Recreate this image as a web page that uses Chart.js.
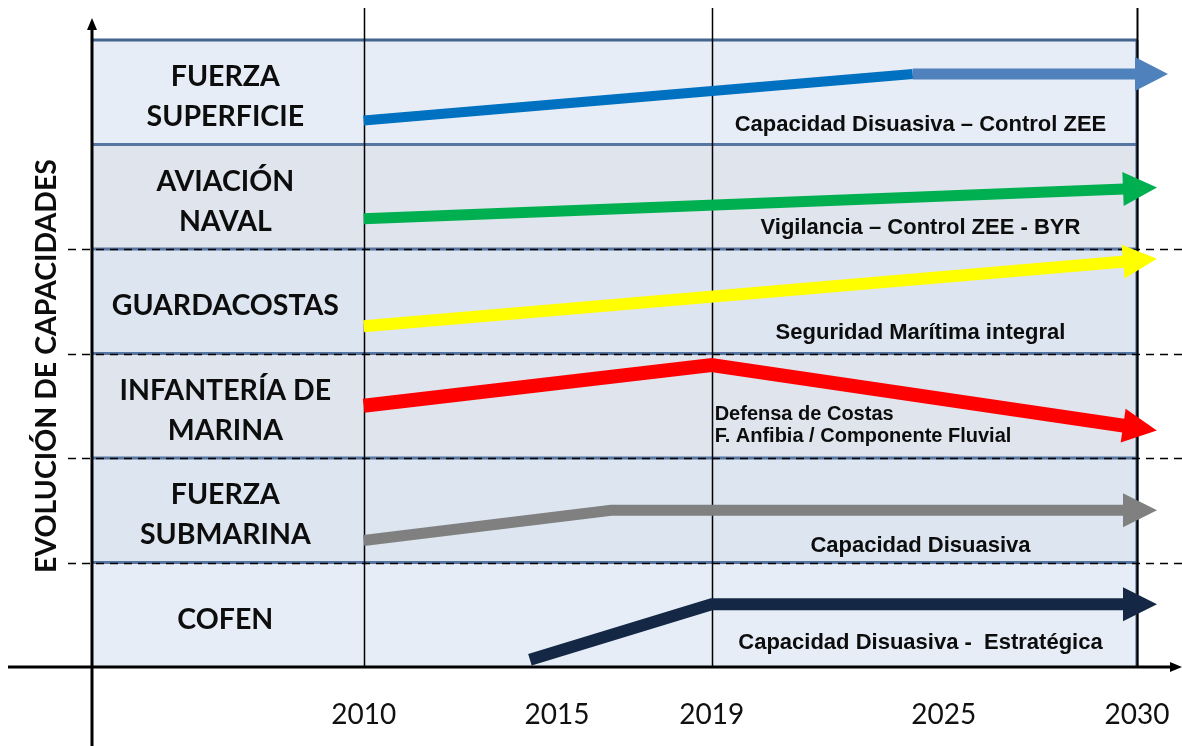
<!DOCTYPE html>
<html>
<head>
<meta charset="utf-8">
<script src="https://cdn.jsdelivr.net/npm/chart.js@4.4.1/dist/chart.umd.min.js"></script>
<style>
    html, body { margin: 0; padding: 0; background: #fff; }
</style>
</head>
<body>
<canvas id="chart" width="1182" height="746"></canvas>
<script>
// rows, bottom to top (one row = one unit on the y scale)
const rowLabels = [
    ['COFEN'],
    ['FUERZA', 'SUBMARINA'],
    ['INFANTERÍA DE', 'MARINA'],
    ['GUARDACOSTAS'],
    ['AVIACIÓN', 'NAVAL'],
    ['FUERZA', 'SUPERFICIE']
];
const tickYears = [2010, 2015, 2019, 2025, 2030];
const markerYears = [2010, 2019, 2030];

// capability lines: years and level (in row units)
const superficieYears = [2010, 2024.2, 2030];
const superficieLevels = [5.23, 5.675, 5.675];
const aviacionYears = [2010, 2030];
const aviacionLevels = [4.29, 4.58];
const guardacostasYears = [2010, 2030];
const guardacostasLevels = [3.26, 3.89];
const infanteriaYears = [2010, 2019, 2030];
const infanteriaLevels = [2.50, 2.89, 2.29];
const submarinaYears = [2010, 2016.4, 2030];
const submarinaLevels = [1.21, 1.50, 1.50];
const cofenYears = [2014.3, 2019, 2030];
const cofenLevels = [0.07, 0.60, 0.60];

const noteTexts = [
    'Capacidad Disuasiva – Control ZEE',
    'Vigilancia – Control ZEE - BYR',
    'Seguridad Marítima integral',
    'Capacidad Disuasiva',
    'Capacidad Disuasiva -  Estratégica'
];
const defensaLines = ['Defensa de Costas', 'F. Anfibia / Componente Fluvial'];
const axisTitle = 'EVOLUCIÓN DE CAPACIDADES';

// layout / styles
const rowFills = ['#e6edf6', '#dce5f0', '#dfe4ed', '#dce5f0', '#dfe4ed', '#e6edf6'];
const noteLevels = [5.19, 4.20, 3.20, 1.16, 0.23];
const noteYear = 2024.4;
const labelFont = 'bold 28.5px Lato';
const noteFont = 'bold 22px "Liberation Sans"';

function pts(xs, ys) {
    return xs.map((x, i) => ({ x: x, y: ys[i] }));
}

function line(ctx, x1, y1, x2, y2) {
    ctx.beginPath();
    ctx.moveTo(x1, y1);
    ctx.lineTo(x2, y2);
    ctx.stroke();
}

const diagramPlugin = {
    id: 'diagram',
    beforeDatasetsDraw(chart) {
        const { ctx, chartArea: a, scales: { x, y } } = chart;
        ctx.save();

        // row bands
        rowFills.forEach((c, i) => {
            const top = y.getPixelForValue(i + 1);
            const bot = y.getPixelForValue(i);
            ctx.fillStyle = c;
            ctx.fillRect(a.left, top, a.right - a.left, bot - top);
        });

        // row borders
        ctx.lineWidth = 3;
        for (let i = 1; i <= rowLabels.length; i++) {
            const py = y.getPixelForValue(i);
            ctx.strokeStyle = i === 6 ? '#42648f' : '#5675a0';
            line(ctx, a.left, py, a.right, py);
        }
        ctx.strokeStyle = '#3e5b84';
        line(ctx, a.right, a.top, a.right, a.bottom);

        // dashed guide lines
        ctx.setLineDash([8, 6]);
        ctx.strokeStyle = '#000';
        ctx.lineWidth = 1.5;
        for (let i = 1; i <= 4; i++) {
            const py = Math.round(y.getPixelForValue(i)) + 0.5;
            line(ctx, a.left - 25, py, chart.width, py);
        }
        ctx.setLineDash([]);

        // year markers
        markerYears.forEach((yr, i) => {
            const px = Math.round(x.getPixelForValue(yr)) + 0.5;
            ctx.lineWidth = i === markerYears.length - 1 ? 2 : 1.5;
            line(ctx, px, 8, px, a.bottom);
        });

        // row labels
        ctx.fillStyle = '#0d0d0d';
        ctx.font = labelFont;
        ctx.textAlign = 'center';
        ctx.textBaseline = 'middle';
        const cx = (a.left + x.getPixelForValue(2010)) / 2 - 3;
        rowLabels.forEach((lines, i) => {
            const cy = y.getPixelForValue(i + 0.5) + 5;
            lines.forEach((t, j) => {
                ctx.fillText(t, cx, cy + (j - (lines.length - 1) / 2) * 40);
            });
        });

        // notes
        ctx.font = noteFont;
        const nx = x.getPixelForValue(noteYear);
        noteTexts.forEach((t, i) => {
            ctx.fillText(t, nx, y.getPixelForValue(noteLevels[i]));
        });
        ctx.textAlign = 'left';
        ctx.font = 'bold 20px "Liberation Sans"';
        const dx = x.getPixelForValue(2019) + 3;
        defensaLines.forEach((t, j) => {
            ctx.fillText(t, dx, y.getPixelForValue(2.42) + j * 22);
        });

        // axis title
        ctx.save();
        ctx.translate(47, 366);
        ctx.rotate(-Math.PI / 2);
        ctx.textAlign = 'center';
        ctx.font = labelFont;
        ctx.fillText(axisTitle, 0, 0);
        ctx.restore();

        ctx.restore();
    },
    afterDatasetsDraw(chart) {
        const { ctx, chartArea: a } = chart;
        ctx.save();

        // arrow heads at the end of each line
        chart.data.datasets.forEach((ds, i) => {
            const els = chart.getDatasetMeta(i).data;
            const p1 = els[els.length - 1], p0 = els[els.length - 2];
            const ang = Math.atan2(p1.y - p0.y, p1.x - p0.x);
            const h = ds.arrowHead;
            ctx.save();
            ctx.translate(p1.x, p1.y);
            ctx.rotate(ang);
            ctx.fillStyle = h.color;
            ctx.beginPath();
            ctx.moveTo(h.fwd, 0);
            ctx.lineTo(-h.back, -h.half);
            ctx.lineTo(-h.back, h.half);
            ctx.closePath();
            ctx.fill();
            ctx.restore();
        });

        // axes
        ctx.strokeStyle = '#000';
        ctx.fillStyle = '#000';
        ctx.lineWidth = 3;
        line(ctx, a.left - 1, 28, a.left - 1, chart.height);
        ctx.beginPath();
        ctx.moveTo(a.left - 1, 18);
        ctx.lineTo(a.left - 6, 30);
        ctx.lineTo(a.left + 4, 30);
        ctx.closePath();
        ctx.fill();

        line(ctx, 8, a.bottom, chart.width - 8, a.bottom);
        ctx.beginPath();
        ctx.moveTo(chart.width, a.bottom);
        ctx.lineTo(chart.width - 12, a.bottom - 5);
        ctx.lineTo(chart.width - 12, a.bottom + 5);
        ctx.closePath();
        ctx.fill();

        ctx.restore();
    }
};

function series(label, xs, ys, color, width, head, extra) {
    return Object.assign({
        label: label,
        data: pts(xs, ys),
        borderColor: color,
        borderWidth: width,
        pointRadius: 0,
        borderCapStyle: 'butt',
        borderJoinStyle: 'miter',
        tension: 0,
        clip: false,
        arrowHead: Object.assign({ color: color, fwd: 20, back: 14, half: 17 }, head)
    }, extra || {});
}

const ctx = document.getElementById('chart').getContext('2d');
new Chart(ctx, {
    type: 'line',
    data: {
        datasets: [
            series('Fuerza Superficie', superficieYears, superficieLevels, '#0070c0', 10,
                { color: '#4f81bd', fwd: 31, back: 2, half: 17 },
                { segment: {
                    borderColor: c => c.p0DataIndex >= 1 ? '#4f81bd' : '#0070c0',
                    borderWidth: c => c.p0DataIndex >= 1 ? 11 : 10
                } }),
            series('Aviación Naval', aviacionYears, aviacionLevels, '#00b050', 11),
            series('Guardacostas', guardacostasYears, guardacostasLevels, '#ffff00', 12),
            series('Infantería de Marina', infanteriaYears, infanteriaLevels, '#ff0000', 14),
            series('Fuerza Submarina', submarinaYears, submarinaLevels, '#808080', 11),
            series('COFEN', cofenYears, cofenLevels, '#142744', 12)
        ]
    },
    options: {
        responsive: false,
        animation: false,
        layout: {
            padding: { left: 93, right: 45, top: 40, bottom: 0 }
        },
        plugins: {
            legend: { display: false },
            tooltip: { enabled: false }
        },
        scales: {
            x: {
                type: 'linear',
                min: 2003,
                max: 2030,
                afterBuildTicks: s => { s.ticks = tickYears.map(v => ({ value: v })); },
                afterFit: s => {
                    s.height = 79;
                    s.paddingLeft = 0;
                    s.paddingRight = 0;
                },
                grid: { display: false, drawTicks: false },
                border: { display: false },
                ticks: {
                    padding: 31,
                    maxRotation: 0,
                    autoSkip: false,
                    color: '#111',
                    font: { family: 'Lato', size: 28 },
                    callback: v => String(v)
                }
            },
            y: {
                type: 'linear',
                display: false,
                min: 0,
                max: 6
            }
        }
    },
    plugins: [diagramPlugin]
});
</script>
</body>
</html>
